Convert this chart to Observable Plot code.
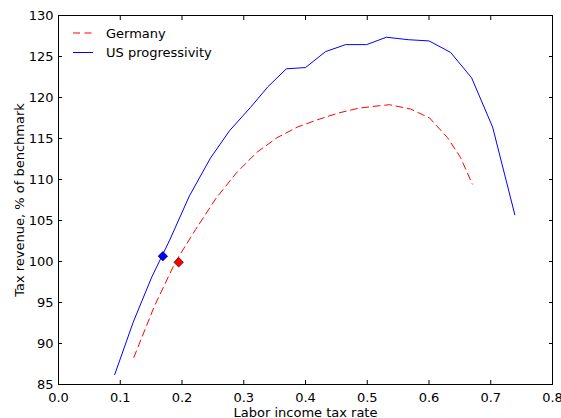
<!DOCTYPE html>
<html>
<head>
<meta charset="utf-8">
<script src="https://cdn.jsdelivr.net/npm/d3@7"></script>
<script src="https://cdn.jsdelivr.net/npm/@observablehq/plot@0.6"></script>
<style>
  html, body { margin: 0; padding: 0; background: white; }
  #wrap { position: relative; width: 561px; height: 418px; font-family: "DejaVu Sans", sans-serif; }
  #wrap svg { overflow: visible; }
  #legend { position: absolute; left: 0; top: 0; pointer-events: none; }
</style>
</head>
<body>
<div id="wrap"></div>
<script>
// ---- data ----
const usX = [0.091, 0.121, 0.151, 0.180, 0.212, 0.246, 0.277, 0.311, 0.339, 0.369, 0.400, 0.4325, 0.465, 0.499, 0.531, 0.5665, 0.600, 0.635, 0.669, 0.703, 0.739];
const usY = [86.2, 92.6, 98.1, 102.6, 108.0, 112.6, 115.95, 118.8, 121.3, 123.5, 123.65, 125.6, 126.45, 126.45, 127.35, 127.05, 126.9, 125.5, 122.4, 116.4, 105.7];

const deX = [0.122, 0.155, 0.189, 0.222, 0.255, 0.288, 0.321, 0.354, 0.387, 0.420, 0.453, 0.486, 0.520, 0.536, 0.570, 0.601, 0.630, 0.651, 0.670];
const deY = [88.3, 94.5, 99.9, 103.9, 107.7, 110.8, 113.3, 115.1, 116.4, 117.3, 118.1, 118.7, 119.0, 119.12, 118.6, 117.5, 115.1, 112.7, 109.45];

const markerX = [0.169, 0.1946];
const markerY = [100.65, 99.9];
const markerColor = ["#0000ff", "#ff0000"];

const xTicks = [0, 0.1, 0.2, 0.3, 0.4, 0.5, 0.6, 0.7, 0.8];
const yTicks = [85, 90, 95, 100, 105, 110, 115, 120, 125, 130];

const legendLabels = ["Germany", "US progressivity"];
const legendColors = ["#ff0000", "#0000ff"];
const legendDash = ["7,4.5", null];

const xLabel = "Labor income tax rate";
const yLabel = "Tax revenue, % of benchmark";

// ---- build ----
const us = usX.map((x, i) => ({x, y: usY[i]}));
const de = deX.map((x, i) => ({x, y: deY[i]}));
const markers = markerX.map((x, i) => ({x, y: markerY[i], c: markerColor[i]}));
const fmt = d => d.toFixed(1);

const chart = Plot.plot({
  width: 561,
  height: 418,
  marginLeft: 58,
  marginTop: 15,
  marginRight: 9,
  marginBottom: 34,
  x: {domain: [0, 0.8]},
  y: {domain: [85, 130]},
  style: {fontFamily: "DejaVu Sans", fontSize: "13px", background: "white", color: "black", overflow: "visible"},
  marks: [
    Plot.line(de, {x: "x", y: "y", stroke: "#ff0000", strokeWidth: 1, strokeDasharray: "7,4.5"}),
    Plot.line(us, {x: "x", y: "y", stroke: "#0000ff", strokeWidth: 1}),
    Plot.dot(markers, {x: "x", y: "y", fill: "c", stroke: "black", strokeWidth: 0.6, symbol: "diamond2", r: 4.3}),
    Plot.axisX(xTicks, {anchor: "bottom", tickSize: 0, tickPadding: 8, tickFormat: fmt, label: null, fontSize: 13}),
    Plot.axisX(xTicks, {anchor: "bottom", tickSize: 4, dy: -4, tickFormat: () => "", label: null}),
    Plot.axisX(xTicks, {anchor: "top", tickSize: 4, dy: 4, tickFormat: () => "", label: null}),
    Plot.axisY(yTicks, {anchor: "left", tickSize: 0, tickPadding: 5, label: null, fontSize: 13}),
    Plot.axisY(yTicks, {anchor: "left", tickSize: 4, dx: 4, tickFormat: () => "", label: null}),
    Plot.axisY(yTicks, {anchor: "right", tickSize: 4, dx: -4, tickFormat: () => "", label: null}),
    Plot.frame({stroke: "black", strokeWidth: 1}),
    Plot.text([xLabel], {frameAnchor: "bottom", dy: 28, text: d => d, fontSize: 13, textAnchor: "middle", lineAnchor: "middle"}),
    Plot.text([yLabel], {frameAnchor: "left", dx: -39, rotate: -90, text: d => d, fontSize: 13, textAnchor: "middle", lineAnchor: "middle"})
  ]
});

const wrap = document.getElementById("wrap");
wrap.appendChild(chart);

// legend overlay
const leg = d3.select(wrap).append("svg")
  .attr("id", "legend").attr("width", 561).attr("height", 418);
legendLabels.forEach((lab, i) => {
  const y = 33 + i * 19.5;
  leg.append("line").attr("x1", 73).attr("x2", 93).attr("y1", y).attr("y2", y)
    .attr("stroke", legendColors[i]).attr("stroke-width", 1)
    .attr("stroke-dasharray", legendDash[i]);
  leg.append("text").attr("x", 106).attr("y", y).attr("dy", "0.35em")
    .attr("font-family", "DejaVu Sans").attr("font-size", 13).text(lab);
});
</script>
</body>
</html>
